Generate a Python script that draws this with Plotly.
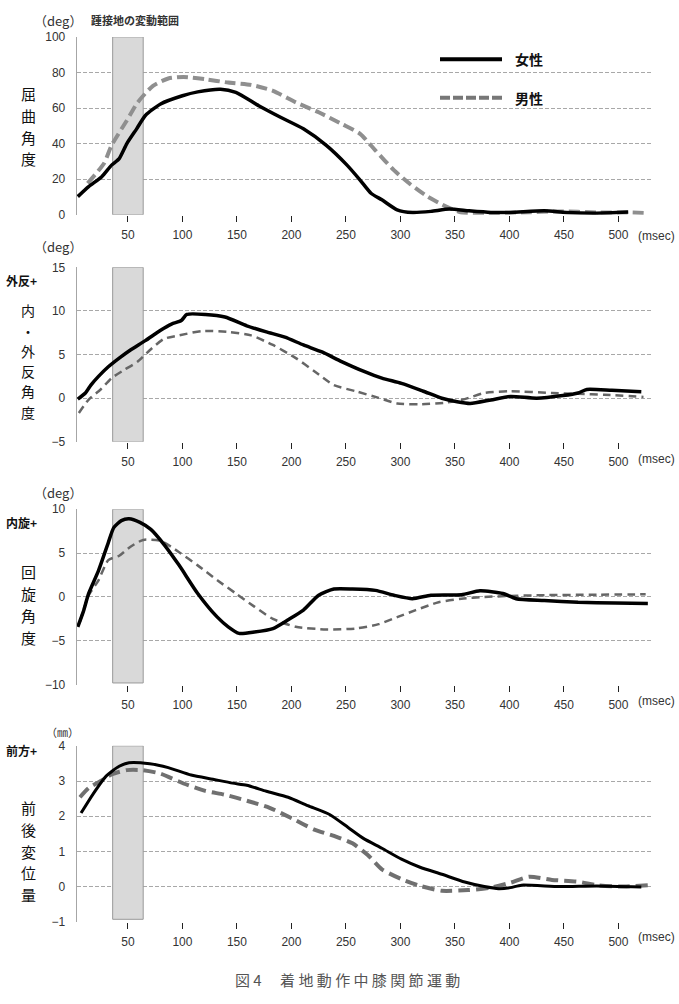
import plotly.graph_objects as go

# ---------------- data ----------------
TICKS_MS = [50, 100, 150, 200, 250, 300, 350, 400, 450, 500]
BAND_MS = [36, 64]  # 踵接地の変動範囲

# Panel 1: 屈曲角度 (deg)
FLEX_F_T = [4, 14, 26, 35, 42, 49, 58, 66, 80, 100, 114, 135, 149, 170, 190, 211, 232, 251, 263, 273, 283, 297, 311, 328, 345, 363, 383, 401, 432, 452, 480, 509]
FLEX_F = [10.2, 15.8, 21.4, 27.9, 31.6, 40, 48.3, 55.8, 62.3, 66.9, 69.1, 70.6, 68.8, 61.3, 54.8, 48.3, 39, 27.9, 19.5, 12.1, 8.4, 2.8, 1.3, 1.9, 3.2, 2.2, 1.3, 1.3, 2.2, 1.3, 0.9, 1.5]
FLEX_M_T = [13, 28, 35, 49, 59, 73, 87, 101, 121, 142, 163, 183, 204, 225, 246, 263, 277, 294, 308, 325, 342, 356, 377, 411, 446, 480, 508, 527]
FLEX_M = [17.7, 28.8, 39, 53, 63.2, 72.5, 76.6, 77.5, 76.2, 74.3, 73, 69.7, 63.2, 57.6, 51.1, 45.5, 36.2, 25.1, 17.7, 10.2, 4.6, 1.3, 0.9, 1.3, 1.9, 1.3, 1.3, 0.9]

# Panel 2: 内・外反角度 (deg)
VALG_F_T = [4, 11, 16, 23, 32, 42, 52, 66, 80, 90, 99, 104, 121, 139, 159, 177, 194, 211, 228, 246, 266, 283, 301, 321, 338, 352, 364, 383, 401, 425, 449, 463, 471, 494, 521]
VALG_F = [-0.1, 0.6, 1.5, 2.5, 3.6, 4.6, 5.5, 6.6, 7.8, 8.5, 8.9, 9.6, 9.6, 9.3, 8.3, 7.6, 7.0, 6.1, 5.3, 4.2, 3.1, 2.3, 1.7, 0.8, 0.0, -0.4, -0.6, -0.2, 0.2, 0.0, 0.3, 0.6, 1.0, 0.9, 0.75]
VALG_M_T = [5, 14, 25, 35, 46, 59, 70, 83, 97, 118, 142, 163, 183, 204, 221, 239, 259, 280, 297, 318, 342, 359, 377, 401, 439, 463, 487, 523]
VALG_M = [-1.7, -0.15, 1.0, 2.3, 3.2, 4.2, 5.5, 6.8, 7.2, 7.7, 7.6, 7.2, 6.1, 4.6, 3.1, 1.5, 0.8, 0.04, -0.6, -0.7, -0.5, -0.1, 0.6, 0.8, 0.6, 0.5, 0.4, 0.15]

# Panel 3: 回旋角度 (deg)
ROT_F_T = [4, 9, 14, 23, 32, 37, 44, 51, 61, 71, 83, 97, 114, 132, 142, 152, 166, 183, 197, 211, 225, 239, 256, 277, 294, 311, 328, 356, 373, 394, 406, 432, 463, 497, 527]
ROT_F = [-3.4, -1.7, 0.4, 3.0, 6.2, 7.9, 8.7, 8.9, 8.5, 7.7, 6.0, 3.6, 0.4, -2.3, -3.4, -4.15, -4.0, -3.6, -2.6, -1.5, 0.2, 0.9, 0.9, 0.75, 0.2, -0.2, 0.2, 0.26, 0.7, 0.4, -0.2, -0.4, -0.6, -0.7, -0.75]
ROT_M_T = [6, 14, 23, 32, 42, 52, 64, 80, 97, 114, 132, 149, 166, 183, 204, 232, 259, 280, 297, 314, 335, 356, 377, 397, 428, 480, 525]
ROT_M = [-2.8, 0.2, 1.9, 4.2, 4.7, 5.7, 6.5, 6.4, 5.1, 3.6, 1.9, 0.4, -1.1, -2.5, -3.4, -3.7, -3.6, -3.1, -2.3, -1.5, -0.6, -0.2, 0.0, 0.1, 0.2, 0.26, 0.3]

# Panel 4: 前後変位量 (mm)
AP_F_T = [7, 18, 30, 42, 51, 70, 87, 108, 128, 146, 159, 177, 197, 215, 235, 252, 266, 283, 301, 318, 338, 359, 377, 390, 401, 411, 446, 480, 521]
AP_F = [2.09, 2.63, 3.14, 3.42, 3.52, 3.49, 3.38, 3.17, 3.05, 2.94, 2.88, 2.71, 2.54, 2.30, 2.05, 1.68, 1.37, 1.09, 0.78, 0.55, 0.35, 0.13, 0.0, -0.06, -0.03, 0.04, 0.0, 0.02, -0.01]
AP_M_T = [6, 14, 25, 35, 49, 63, 80, 101, 121, 139, 159, 180, 201, 221, 239, 256, 270, 283, 301, 318, 338, 362, 383, 401, 418, 439, 463, 480, 501, 527]
AP_M = [2.54, 2.8, 3.0, 3.19, 3.31, 3.31, 3.21, 2.93, 2.72, 2.61, 2.44, 2.24, 1.93, 1.62, 1.44, 1.23, 0.90, 0.49, 0.21, 0.02, -0.12, -0.1, -0.03, 0.11, 0.28, 0.19, 0.14, 0.04, 0.0, 0.04]

Y_RANGES = [[0, 100], [-5, 15], [-10, 10], [-1, 4]]
Y_DTICKS = [20, 5, 5, 1]
BAND_Y = [[0, 100], [-5, 15], [-9.8, 10], [-0.93, 4]]
Y_TITLES = ["屈曲角度", "内・外反角度", "回旋角度", "前後変位量"]
UNITS = ["（deg）", "（deg）", "（deg）", "（㎜）"]
SIGN_LABELS = [None, "外反+", "内旋+", "前方+"]
SERIES_NAMES = ["女性", "男性"]
CAPTION = "図 4　 着 地 動 作 中 膝 関 節 運 動"
BAND_NOTE = "踵接地の変動範囲"

# ---------------- layout helpers ----------------
W, H = 679, 1004
def fx(p):
    return p / W
def fy(p):
    return 1 - p / H

X_RANGE = [3, 532]
X_DOM = [fx(76.7), fx(653.3)]
PANEL_PX = [(30.3, 210.7), (264, 441), (509.3, 687.3), (749.3, 927.7)]

FONT = "Noto Sans CJK JP"
TICKFONT = "Liberation Sans"

data_sets = [
    (FLEX_F_T, FLEX_F, FLEX_M_T, FLEX_M),
    (VALG_F_T, VALG_F, VALG_M_T, VALG_M),
    (ROT_F_T, ROT_F, ROT_M_T, ROT_M),
    (AP_F_T, AP_F, AP_M_T, AP_M),
]
male_style = [
    dict(color="#8f8f8f", width=4, dash="11px,5px"),
    dict(color="#666666", width=2.5, dash="8px,5px"),
    dict(color="#666666", width=2.5, dash="8px,5px"),
    dict(color="#707070", width=4, dash="12px,6px"),
]
female_width = [3.5, 3.5, 3.5, 3]

fig = go.Figure()
layout = dict(
    width=W, height=H, margin=dict(l=0, r=0, t=0, b=0),
    paper_bgcolor="white", plot_bgcolor="white", showlegend=False,
    font=dict(family=FONT, color="#222"),
)
shapes = []
annotations = []

title_centers = [121, 359, 606, 856]
title_sizes = [15, 14, 15, 15]

for i in range(4):
    n = i + 1
    xa = "x" if n == 1 else f"x{n}"
    ya = "y" if n == 1 else f"y{n}"
    ft, fv, mt, mv = data_sets[i]
    fig.add_trace(go.Scatter(x=mt, y=mv, mode="lines", name=SERIES_NAMES[1],
                             line=dict(shape="spline", smoothing=0.6, **male_style[i]),
                             xaxis=xa, yaxis=ya))
    fig.add_trace(go.Scatter(x=ft, y=fv, mode="lines", name=SERIES_NAMES[0],
                             line=dict(color="black", width=female_width[i], shape="spline", smoothing=0.6),
                             xaxis=xa, yaxis=ya))
    top, bot = PANEL_PX[i]
    layout[f"xaxis{n if n > 1 else ''}"] = dict(
        domain=X_DOM, range=X_RANGE, anchor=ya, showgrid=False, zeroline=False,
        showline=False, tickmode="array", tickvals=TICKS_MS,
        ticks="outside", ticklen=6, tickwidth=1.2, tickcolor="#222",
        ticklabelstandoff=3,
        tickfont=dict(family=TICKFONT, size=12, color="#333"),
    )
    layout[f"xaxis{n + 4}"] = dict(
        domain=X_DOM, range=X_RANGE, anchor=ya, overlaying=xa, showgrid=False,
        zeroline=False, showline=False, tickmode="array", tickvals=TICKS_MS,
        ticks="inside", ticklen=9, tickwidth=1.2, tickcolor="#222",
        showticklabels=False,
    )
    layout[f"yaxis{n if n > 1 else ''}"] = dict(
        domain=[fy(bot), fy(top)], range=Y_RANGES[i], anchor=xa,
        dtick=Y_DTICKS[i], tick0=Y_RANGES[i][0],
        showgrid=True, gridcolor="#a8a8a8", gridwidth=1, griddash="4px,2px",
        zeroline=False, showline=True, linecolor="#a6a6a6", linewidth=1,
        ticks="", ticklabelstandoff=8,
        tickfont=dict(family=TICKFONT, size=12, color="#333"),
    )
    # heel-contact range band
    shapes.append(dict(type="rect", xref=xa, yref=ya, x0=BAND_MS[0], x1=BAND_MS[1],
                       y0=BAND_Y[i][0], y1=BAND_Y[i][1], layer="between",
                       fillcolor="#d9d9d9", line=dict(color="#999999", width=1)))
    # vertical y title: one character per annotation, spaced so boxes don't overlap
    chars = list(Y_TITLES[i])
    size = title_sizes[i]
    step = size * 1.47
    c0 = title_centers[i] - step * (len(chars) - 1) / 2
    for k, ch in enumerate(chars):
        annotations.append(dict(text=ch, x=fx(28), y=fy(c0 + k * step),
                                xref="paper", yref="paper", showarrow=False,
                                xanchor="center", yanchor="middle", borderpad=0,
                                font=dict(family=FONT, size=size, color="#111")))
    # unit label
    unit_y = [14, 243, 492, 735][i]
    annotations.append(dict(text=UNITS[i], x=fx(58 if i < 3 else 62), y=fy(unit_y), xref="paper", yref="paper",
                            showarrow=False, xanchor="center", yanchor="middle",
                            font=dict(family=FONT, size=13 if i < 3 else 11, color="#333")))
    if SIGN_LABELS[i]:
        sy = [None, 277, 523, 754][i]
        annotations.append(dict(text=SIGN_LABELS[i], x=fx(4), y=fy(sy), xref="paper", yref="paper",
                                showarrow=False, xanchor="left", yanchor="middle",
                                font=dict(family=FONT, size=12, color="#111", weight="bold")))
    # (msec)
    my = [232, 458, 704, 943][i]
    annotations.append(dict(text="(msec)", x=fx(677), y=fy(my), xref="paper", yref="paper",
                            showarrow=False, xanchor="right", yanchor="middle",
                            font=dict(family=TICKFONT, size=12, color="#333")))

# band note
annotations.append(dict(text=BAND_NOTE, x=fx(89), y=fy(13), xref="paper", yref="paper",
                        showarrow=False, xanchor="left", yanchor="middle",
                        font=dict(family=FONT, size=11, color="#333", weight="bold")))
# legend (manual)
shapes.append(dict(type="line", xref="paper", yref="paper", x0=fx(440), x1=fx(502),
                   y0=fy(53), y1=fy(53), line=dict(color="black", width=4)))
shapes.append(dict(type="line", xref="paper", yref="paper", x0=fx(440), x1=fx(502),
                   y0=fy(92), y1=fy(92), line=dict(color="#777777", width=4, dash="10px,3px")))
for name, yy in zip(SERIES_NAMES, [53, 92]):
    annotations.append(dict(text=name, x=fx(513), y=fy(yy), xref="paper", yref="paper",
                            showarrow=False, xanchor="left", yanchor="middle",
                            font=dict(family=FONT, size=14, color="#111", weight="bold")))
# caption
annotations.append(dict(text=CAPTION, x=fx(233), y=fy(986), xref="paper", yref="paper",
                        showarrow=False, xanchor="left", yanchor="middle",
                        font=dict(family=FONT, size=15, color="#555")))

layout["shapes"] = shapes
layout["annotations"] = annotations
fig.update_layout(**layout)
fig.write_html("out.html")
